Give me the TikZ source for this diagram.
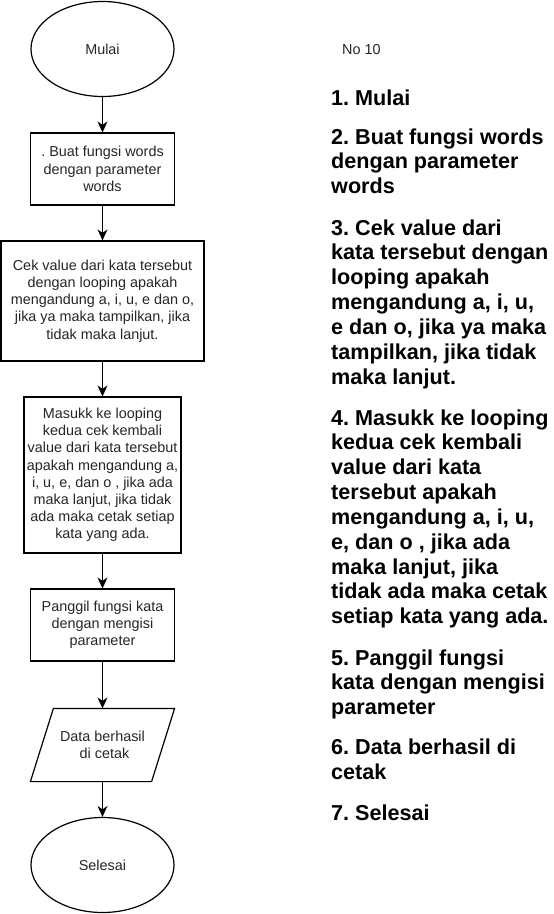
\documentclass[tikz,border=0pt]{standalone}
\usepackage{fontspec}
\setmainfont{Liberation Sans}
\usetikzlibrary{arrows.meta,shapes.geometric}
\frenchspacing
\begin{document}
\frenchspacing
\begin{tikzpicture}[x=1pt,y=-1pt,
  flow/.style={draw=black,line width=1.2pt,fill=white,align=center,inner sep=0pt,
    font=\fontsize{14.4}{17.2}\selectfont,text=black!85},
  procbox/.style={flow,rectangle},
  termbox/.style={flow,ellipse,minimum width=143pt,minimum height=95pt},
  link/.style={line width=1.2pt,-{Stealth[length=11pt,width=10pt,inset=3.5pt]}},
  listtxt/.style={anchor=base west,inner sep=0pt,font=\fontsize{21.6}{24.85}\selectfont\bfseries,text=black}
]
\useasboundingbox (0,0) rectangle (554,914);

% flowchart
\node[termbox] (start) at (102.5,49) {Mulai};
\node[procbox,minimum width=144pt,minimum height=72pt] (s2) at (102.5,169)
  {. Buat fungsi words\\dengan parameter\\words};
\node[procbox,minimum width=203pt,minimum height=120pt] (s3) at (102.5,301)
  {Cek value dari kata tersebut\\dengan looping apakah\\mengandung a, i, u, e dan o,\\jika ya maka tampilkan, jika\\tidak maka lanjut.};
\node[procbox,minimum width=157pt,minimum height=156pt] (s4) at (102.5,475)
  {Masukk ke looping\\kedua cek kembali\\value dari kata tersebut\\apakah mengandung a,\\i, u, e, dan o , jika ada\\maka lanjut, jika tidak\\ada maka cetak setiap\\kata yang ada.};
\node[procbox,minimum width=144pt,minimum height=72pt] (s5) at (102.5,625)
  {Panggil fungsi kata\\dengan mengisi\\parameter};
\node[flow,draw=none,fill=none,minimum width=143pt,minimum height=72pt] (s6) at (102.5,745)
  {Data berhasil\\\ di cetak};
\draw[line width=1.2pt,line join=miter] ([xshift=23pt]s6.north west) -- (s6.north east)
  -- ([xshift=-23pt]s6.south east) -- (s6.south west) -- cycle;
\node[termbox] (end) at (102.5,865) {Selesai};

\draw[link] (start.south) -- (s2.north);
\draw[link] (s2.south) -- (s3.north);
\draw[link] (s3.south) -- (s4.north);
\draw[link] (s4.south) -- (s5.north);
\draw[link] (s5.south) -- (s6.north);
\draw[link] (s6.south) -- (end.north);

% right-hand text
\node[anchor=base west,inner sep=0pt,font=\fontsize{14.4}{17.2}\selectfont,text=black!85] (no) at (342,54) {No 10};

\node[listtxt] (p1) at (331,105) {1. Mulai};
\node[listtxt] (p2) at (331,144) {\vtop{\hbox{2. Buat fungsi words}\hbox{dengan parameter}\hbox{words}}};
\node[listtxt] (p3) at (331,235) {\vtop{\hbox{3. Cek value dari}\hbox{kata tersebut dengan}\hbox{looping apakah}\hbox{mengandung a, i, u,}\hbox{e dan o, jika ya maka}\hbox{tampilkan, jika tidak}\hbox{maka lanjut.}}};
\node[listtxt] (p4) at (331,425) {\vtop{\hbox{4. Masukk ke looping}\hbox{kedua cek kembali}\hbox{value dari kata}\hbox{tersebut apakah}\hbox{mengandung a, i, u,}\hbox{e, dan o , jika ada}\hbox{maka lanjut, jika}\hbox{tidak ada maka cetak}\hbox{setiap kata yang ada.}}};
\node[listtxt] (p5) at (331,665) {\vtop{\hbox{5. Panggil fungsi}\hbox{kata dengan mengisi}\hbox{parameter}}};
\node[listtxt] (p6) at (331,754.5) {\vtop{\hbox{6. Data berhasil di}\hbox{cetak}}};
\node[listtxt] (p7) at (331,820.5) {7. Selesai};
\end{tikzpicture}
\end{document}
